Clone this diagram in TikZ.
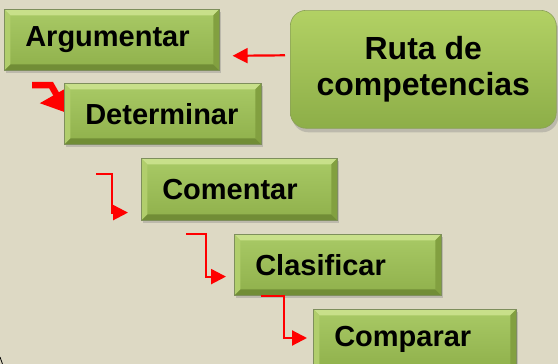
\documentclass[tikz,border=0pt]{standalone}
\usepackage{fontspec}
\setmainfont{Liberation Sans}
\usetikzlibrary{arrows.meta,shadows}

\definecolor{paper}{HTML}{DDD9C4}
\definecolor{boxtop}{HTML}{A9CA66}
\definecolor{boxbot}{HTML}{8FB04B}
\definecolor{bevtop}{HTML}{C8E08A}
\definecolor{bevleft}{HTML}{B1CE6C}
\definecolor{bevright}{HTML}{82A040}
\definecolor{bevbot}{HTML}{718D36}
\definecolor{boxedge}{HTML}{7E8F5C}
\definecolor{rutatop}{HTML}{B2D164}
\definecolor{rutabot}{HTML}{8DAE48}
\definecolor{rutaedge}{HTML}{8AA058}

\pgfdeclarelayer{bg}
\pgfdeclarelayer{under}
\pgfsetlayers{bg,under,main}

\begin{document}
\begin{tikzpicture}[x=1pt,y=1pt,>={Triangle[length=15pt,width=15pt]},
    stepbox/.style={draw=boxedge,line width=0.6pt,top color=boxtop,bottom color=boxbot,
      text width=#1,align=left,inner xsep=21pt,inner ysep=0pt,minimum height=61pt,
      anchor=north west,font=\fontsize{29}{32}\selectfont\bfseries,
      drop shadow={shadow xshift=2pt,shadow yshift=-3pt,opacity=0.35},
      path picture={
        \path (path picture bounding box.north west) coordinate (pnw)
              (path picture bounding box.north east) coordinate (pne)
              (path picture bounding box.south west) coordinate (psw)
              (path picture bounding box.south east) coordinate (pse);
        \fill[bevtop] (pnw) -- (pne) -- ([shift={(-6,-6)}]pne) -- ([shift={(6,-6)}]pnw) -- cycle;
        \fill[bevbot] (psw) -- (pse) -- ([shift={(-6,6)}]pse) -- ([shift={(6,6)}]psw) -- cycle;
        \fill[bevleft] (pnw) -- (psw) -- ([shift={(6,6)}]psw) -- ([shift={(6,-6)}]pnw) -- cycle;
        \fill[bevright] (pne) -- (pse) -- ([shift={(-6,6)}]pse) -- ([shift={(-6,-6)}]pne) -- cycle;
      }},
    rutabox/.style={draw=rutaedge,line width=0.6pt,top color=rutatop,bottom color=rutabot,
      rounded corners=16pt,minimum width=266pt,minimum height=118pt,anchor=north west,
      align=center,font=\fontsize{32}{36}\selectfont\bfseries,
      drop shadow={shadow xshift=2pt,shadow yshift=-4pt,opacity=0.35}},
    redline/.style={draw=red,line width=2.2pt,->},
    fatline/.style={draw=red,line width=6.5pt,-{Triangle[length=22pt,width=36pt]}}]

  \begin{pgfonlayer}{bg}
    \fill[paper] (0,0) rectangle (558,-364);
  \end{pgfonlayer}
  \useasboundingbox (0,0) rectangle (558,-364);

  \node[rutabox] (ruta) at (290,-10) {Ruta de\\competencias};

  \node[stepbox=173pt] (arg) at (4,-9) {Argumentar};
  \node[stepbox=155pt] (det) at (64,-83) {Determinar};
  \node[stepbox=154pt,minimum height=62pt] (com) at (141,-158) {Comentar};
  \node[stepbox=165pt] (cla) at (234,-234) {Clasificar};
  \node[stepbox=161pt] (comp) at (313,-309) {Comparar};

  \coordinate (k1) at (32,-85);
  \coordinate (k2) at (96,-174);
  \coordinate (k3) at (186,-234);
  \coordinate (k4) at ([xshift=27pt]cla.south west);

  \draw[redline] ([shift={(-5,14)}]ruta.west) -- ([shift={(13,-16)}]arg.east);
  \begin{pgfonlayer}{under}
    \draw[fatline] (k1) -- ++(19,0) -- ([shift={(3,-30)}]det.north west);
  \end{pgfonlayer}
  \draw[redline] (k2) -- ++(16,0) |- ([shift={(-13,8)}]com.south west);
  \draw[redline] (k3) -- ++(20,0) |- ([shift={(-8,19)}]cla.south west);
  \draw[redline] (k4) -- ++(23,0) |- ([shift={(-6,-29)}]comp.north west);

  \draw[line width=0.8pt] (0,-357) -- (2.5,-364);
\end{tikzpicture}
\end{document}
